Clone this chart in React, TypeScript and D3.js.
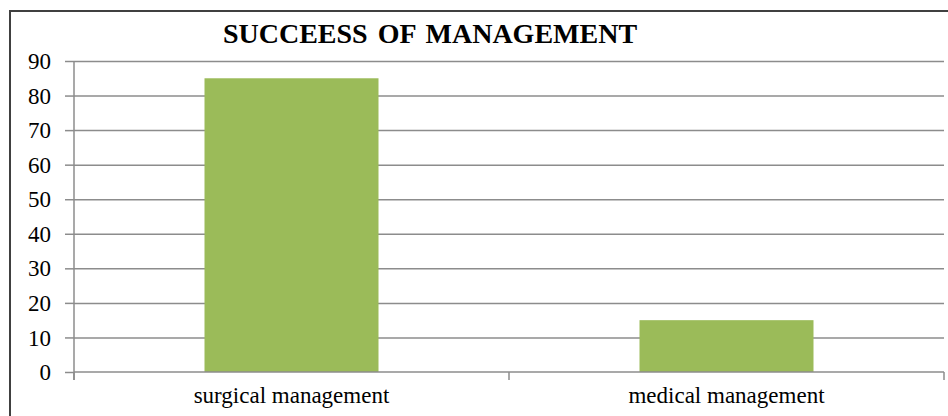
import * as d3 from 'd3';
import { useLayoutEffect, useRef } from 'react';

const categories = ['surgical management', 'medical management'];
const values = [85, 15];
const yTicks = [0, 10, 20, 30, 40, 50, 60, 70, 80, 90];
const title = 'SUCCEESS OF MANAGEMENT';

export default function App() {
  const ref = useRef<SVGSVGElement>(null);

  useLayoutEffect(() => {
    if (!ref.current) return;
    const W = 948,
      H = 416;
    const margin = { top: 61, right: 4, bottom: 44, left: 74 },
      width = W - margin.left - margin.right,
      height = H - margin.top - margin.bottom;

    const root = d3.select(ref.current);
    root.selectAll('*').remove();

    // outer frame (only top and left visible in the crop)
    root
      .append('rect')
      .attr('x', 10)
      .attr('y', 11)
      .attr('width', W + 20)
      .attr('height', H + 20)
      .attr('fill', 'white')
      .attr('stroke', '#404040')
      .attr('stroke-width', 2);

    root
      .append('text')
      .text(title)
      .attr('x', 430)
      .attr('y', 43)
      .attr('text-anchor', 'middle')
      .attr('font-family', '"Liberation Serif", "Times New Roman", serif')
      .attr('font-weight', 'bold')
      .attr('font-size', 28)
      .attr('word-spacing', 3)
      .attr('fill', '#000');

    const svg = root.append('g').attr('transform', `translate(${margin.left},${margin.top})`);

    const x = d3.scaleBand().domain(categories).range([0, width]).padding(0);
    const y = d3.scaleLinear().domain([0, 90]).range([height, 0]);

    // grid
    svg
      .append('g')
      .call(d3.axisLeft(y).tickValues(yTicks.slice(1)).tickSize(-width).tickFormat(() => ''))
      .call((g) => g.select('.domain').remove())
      .selectAll('line')
      .attr('stroke', '#8c8c8c')
      .attr('stroke-width', 1.5);

    // bars
    const barW = x.bandwidth() * 0.4;
    svg
      .selectAll('rect.bar')
      .data(categories)
      .join('rect')
      .attr('class', 'bar')
      .attr('x', (d) => (x(d) ?? 0) + x.bandwidth() / 2 - barW / 2)
      .attr('width', barW)
      .attr('y', (d, i) => y(values[i]))
      .attr('height', (d, i) => height - y(values[i]))
      .attr('fill', '#9bbb59');

    // y axis
    const yAxis = svg
      .append('g')
      .call(d3.axisLeft(y).tickValues(yTicks).tickSize(9).tickPadding(14));
    yAxis.selectAll('line, path').attr('stroke', '#8c8c8c').attr('stroke-width', 1.5);
    yAxis.select('.domain').attr('d', `M0,${height + 8}V0`);
    yAxis
      .selectAll('text')
      .attr('font-family', '"Liberation Serif", "Times New Roman", serif')
      .attr('font-size', 23)
      .attr('fill', '#000')
      .attr('dy', '0.33em');

    // x axis
    const xAxis = svg
      .append('g')
      .attr('transform', `translate(0,${height})`)
      .call(d3.axisBottom(x).tickSize(0).tickPadding(15));
    xAxis.select('.domain').remove();
    xAxis
      .append('path')
      .attr('d', `M0,0H${width}`)
      .attr('stroke', '#8c8c8c')
      .attr('stroke-width', 1.5);
    xAxis
      .selectAll('line.sep')
      .data(d3.range(categories.length + 1))
      .join('line')
      .attr('class', 'sep')
      .attr('x1', (i) => i * x.step())
      .attr('x2', (i) => i * x.step())
      .attr('y1', 0)
      .attr('y2', 8)
      .attr('stroke', '#8c8c8c')
      .attr('stroke-width', 1.5);
    xAxis
      .selectAll('text')
      .attr('font-family', '"Liberation Serif", "Times New Roman", serif')
      .attr('font-size', 23)
      .attr('fill', '#000');
  }, []);

  return (
    <svg
      ref={ref}
      width={948}
      height={416}
      style={{ position: 'absolute', left: 0, top: 0, background: 'white' }}
    />
  );
}
